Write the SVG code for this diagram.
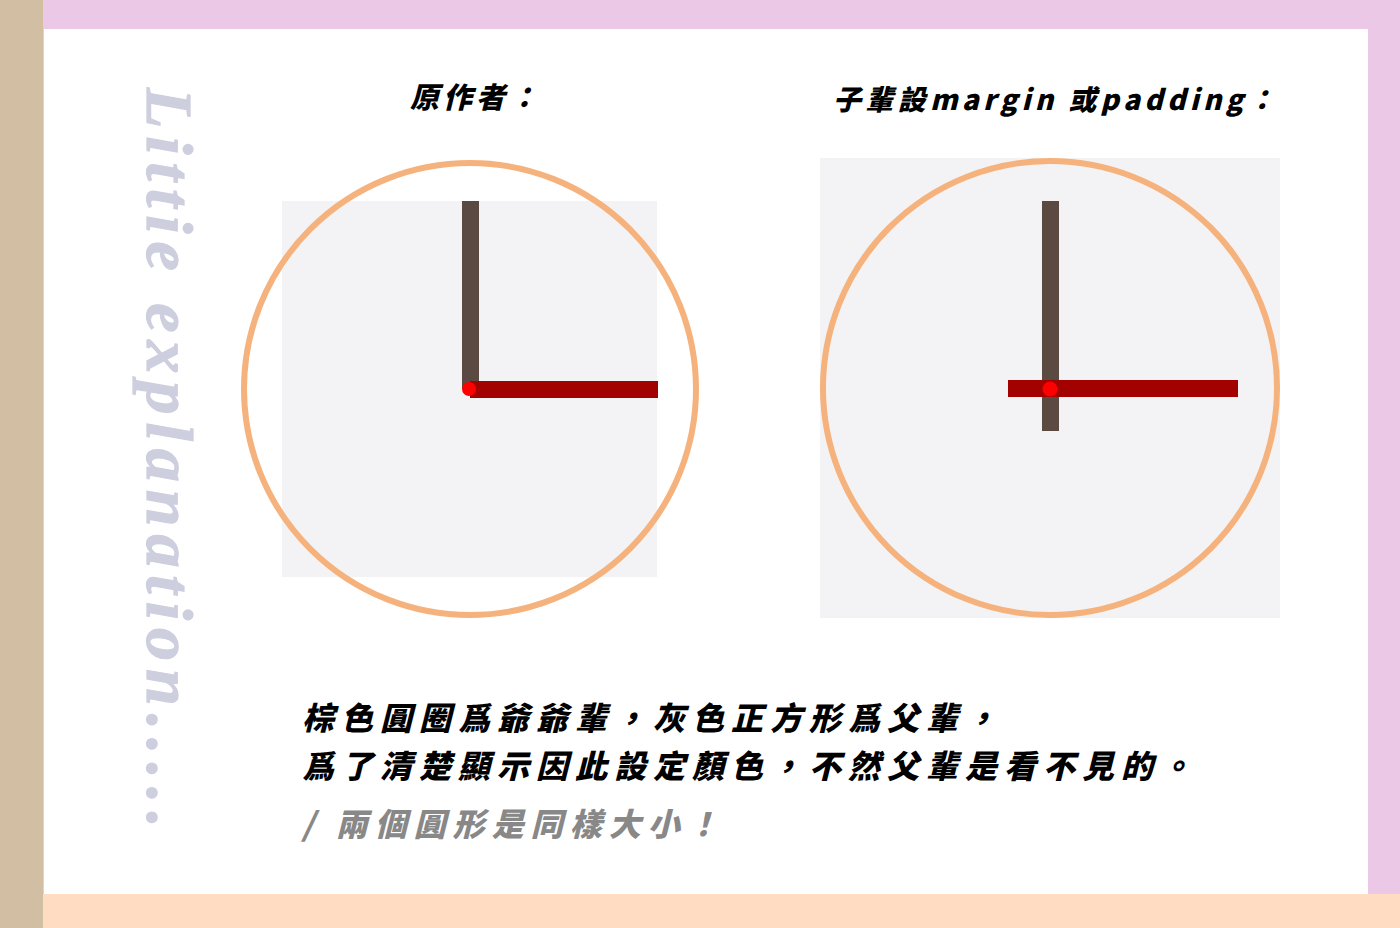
<svg xmlns="http://www.w3.org/2000/svg" width="1400" height="928" viewBox="0 0 1400 928">
<style>
.cjk{font-family:"Noto Sans CJK TC","Noto Sans CJK SC",sans-serif;font-weight:900;font-style:italic}
.ring{fill:none;stroke:#f5b27c;stroke-width:6}
.sq{fill:#f3f3f5}
.brown{fill:#5a4a42}
.red{fill:#a30000}
.dot{fill:#ff0000}
</style>
<g id="frame">
<rect x="0" y="0" width="1400" height="928" fill="#eac8e6"/>
<rect x="44" y="29" width="1324" height="865" fill="#ffffff"/>
<rect x="0" y="0" width="43" height="928" fill="#d2bfa3"/>
<rect x="43" y="894" width="1357" height="34" fill="#ffdcc2"/>
</g>
<g id="side-title">
<text transform="translate(147,88) rotate(90)" x="0" y="0" font-family="'Liberation Serif',serif" font-weight="900" font-style="italic" font-size="66" fill="#cdcede" stroke="#cdcede" stroke-width="1.2" textLength="740" lengthAdjust="spacing">Littie explanation.....</text>
</g>
<g id="title-left">
<text class="cjk" x="410" y="108" font-size="29" letter-spacing="4" fill="#000" font-weight="700">原作者：</text>
</g>
<g id="title-right">
<text class="cjk" x="833" y="110" font-size="28" letter-spacing="4.3" fill="#000" font-weight="700">子輩設margin 或padding：</text>
</g>
<g id="clock-left">
<rect class="sq" x="282" y="201" width="375" height="376"/>
<circle class="ring" cx="470" cy="389" r="226"/>
<rect class="brown" x="462" y="201" width="17" height="188"/>
<rect class="red" x="470" y="381" width="188" height="17"/>
<circle class="dot" cx="469" cy="389" r="7"/>
</g>
<g id="clock-right">
<rect class="sq" x="820" y="158" width="460" height="460"/>
<circle class="ring" cx="1050" cy="388" r="227"/>
<rect class="brown" x="1042" y="201" width="17" height="230"/>
<rect class="red" x="1008" y="380" width="230" height="17"/>
<circle class="dot" cx="1050" cy="389" r="7.5"/>
</g>
<g id="caption">
<text class="cjk" x="302" y="730" font-size="32" letter-spacing="7" fill="#000">棕色圓圈爲爺爺輩，灰色正方形爲父輩，</text>
<text class="cjk" x="302" y="778" font-size="32" letter-spacing="7" fill="#000">爲了清楚顯示因此設定顏色，不然父輩是看不見的。</text>
<text class="cjk" x="302" y="836" font-size="32" letter-spacing="7" fill="#888888">/ 兩個圓形是同樣大小！</text>
</g>
<g id="connectors"/>
</svg>
